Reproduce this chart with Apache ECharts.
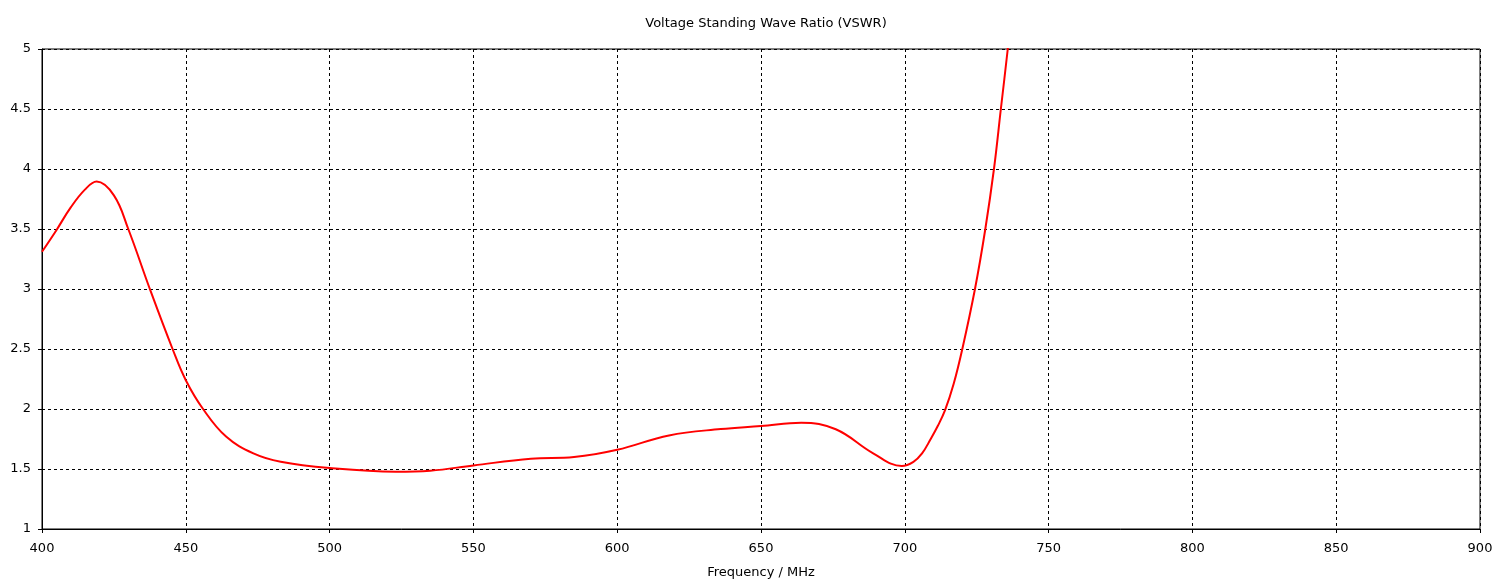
<!DOCTYPE html>
<html>
<head>
<meta charset="utf-8">
<script src="https://cdn.jsdelivr.net/npm/echarts@6/dist/echarts.min.js"></script>
<style>
html, body { margin: 0; padding: 0; background: #fff; }
#content { width: 1499px; height: 588px; }
</style>
</head>
<body>
<div id="content"></div>
<script>
// 频率 (MHz)
var freqs = [400, 405, 410, 415, 419, 425, 430, 437.5, 445.4, 450, 456, 464, 473.5, 483, 500, 523, 535, 550, 570, 585, 600, 618, 636, 650, 664, 676, 689, 699, 703, 706, 709, 711.5, 714, 717, 720, 724.4, 728, 731, 733.4, 735.8, 738];
// 驻波比
var vswr = [3.31, 3.49, 3.68, 3.83, 3.895, 3.78, 3.50, 3.0, 2.5, 2.24, 2.0, 1.77, 1.63, 1.56, 1.508, 1.478, 1.486, 1.53, 1.586, 1.60, 1.66, 1.78, 1.833, 1.858, 1.886, 1.831, 1.631, 1.525, 1.56, 1.63, 1.75, 1.86, 1.99, 2.21, 2.5, 3.0, 3.5, 4.0, 4.5, 5.0, 5.5];

var xTicks = [400, 450, 500, 550, 600, 650, 700, 750, 800, 850, 900];
var yTicks = [1, 1.5, 2, 2.5, 3, 3.5, 4, 4.5, 5];

var points = [];
for (var i = 0; i < freqs.length; i++) {
    points.push([freqs[i], vswr[i]]);
}

var font = 'DejaVu Sans';
var myChart = echarts.init(document.getElementById('content'));

var option = {
    animation: false,
    title: {
        text: 'Voltage Standing Wave Ratio (VSWR)',
        left: 761,
        textAlign: 'center',
        top: 12,
        textStyle: { color: '#000', fontSize: 13, fontWeight: 'normal', fontFamily: font }
    },
    grid: {
        left: 42, right: 19, top: 49, bottom: 59,
        show: true, borderColor: '#000', borderWidth: 1
    },
    xAxis: {
        type: 'value',
        min: xTicks[0],
        max: xTicks[xTicks.length - 1],
        interval: 50,
        name: 'Frequency / MHz',
        nameLocation: 'middle',
        nameGap: 37,
        nameTextStyle: { color: '#000', fontSize: 13, fontFamily: font },
        axisLine: { lineStyle: { color: '#000', width: 1 } },
        axisTick: { show: true, length: 4, lineStyle: { color: '#000' } },
        axisLabel: { color: '#000', fontSize: 13, fontFamily: font, margin: 13 },
        splitLine: { show: true, lineStyle: { color: '#000', type: [3, 3], width: 1 } }
    },
    yAxis: {
        type: 'value',
        min: yTicks[0],
        max: yTicks[yTicks.length - 1],
        interval: 0.5,
        axisLine: { show: true, lineStyle: { color: '#000', width: 1 } },
        axisTick: { show: true, length: 4, lineStyle: { color: '#000' } },
        axisLabel: { color: '#000', fontSize: 13, fontFamily: font, margin: 11 },
        splitLine: { show: true, lineStyle: { color: '#000', type: [3, 3], width: 1 } }
    },
    series: [{
        type: 'line',
        data: points,
        smooth: 0.4,
        showSymbol: false,
        clip: true,
        lineStyle: { color: '#ff0000', width: 2 }
    }]
};
myChart.setOption(option);
</script>
</body>
</html>
